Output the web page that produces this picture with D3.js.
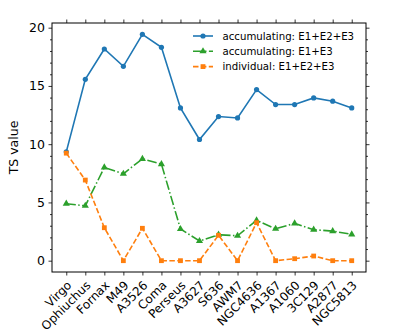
<!DOCTYPE html>
<html lang="en">
<head>
<meta charset="UTF-8">
<title>TS value</title>
<style>
  body { margin: 0; background: #fff; }
  text { font-family: "DejaVu Sans", sans-serif; fill: #000; }
</style>
</head>
<body>
<script src="https://d3js.org/d3.v7.min.js"></script>
<script>
var width = 398, height = 332;
var margin = { left: 52, right: 32, top: 23, bottom: 60 };

// data
var clusters = ['Virgo', 'Ophiuchus', 'Fornax', 'M49', 'A3526', 'Coma', 'Perseus', 'A3627',
  'S636', 'AWM7', 'NGC4636', 'A1367', 'A1060', '3C129', 'A2877', 'NGC5813'];
var accE1E2E3 = [9.34, 15.57, 18.17, 16.68, 19.43, 18.31, 13.11, 10.40,
  12.37, 12.25, 14.69, 13.40, 13.40, 13.97, 13.69, 13.11];
var accE1E3 = [4.89, 4.71, 8.0, 7.46, 8.74, 8.29, 2.72, 1.69,
  2.23, 2.14, 3.46, 2.74, 3.2, 2.66, 2.54, 2.26];
var indivE1E2E3 = [9.23, 6.92, 2.83, 0, 2.78, 0, 0, 0,
  2.18, 0, 3.26, 0, 0.17, 0.4, 0, 0];
var yTicks = [0, 5, 10, 15, 20];
var seriesNames = ['accumulating: E1+E2+E3', 'accumulating: E1+E3', 'individual: E1+E2+E3'];

var series = [
  { name: seriesNames[0], values: accE1E2E3, color: '#1f77b4', dash: null, marker: 'circle' },
  { name: seriesNames[1], values: accE1E3, color: '#2ca02c', dash: '9.6,2.4,1.5,2.4', marker: 'triangle' },
  { name: seriesNames[2], values: indivE1E2E3, color: '#ff7f0e', dash: '5.5,2.4', marker: 'square' }
];

var svg = d3.select('body').append('svg').attr('width', width).attr('height', height);
var pw = width - margin.left - margin.right;
var ph = height - margin.top - margin.bottom;
var g = svg.append('g').attr('transform', 'translate(' + margin.left + ',' + margin.top + ')');

// matplotlib style 5% margins
var n = clusters.length;
var x = d3.scaleLinear().domain([-0.75, n - 1 + 0.75]).range([0, pw]);
var yMax = d3.max(accE1E2E3);
var y = d3.scaleLinear().domain([-0.05 * yMax, yMax * 1.05]).range([ph, 0]);

var idx = d3.range(n);
var minor = d3.range(0, 21, 1).filter(function(v) { return v % 5 !== 0; });

// axes, ticks out on all four sides
g.append('g').attr('transform', 'translate(0,' + ph + ')')
  .call(d3.axisBottom(x).tickValues(idx).tickSize(3.5).tickFormat(''));
g.append('g').call(d3.axisTop(x).tickValues(idx).tickSize(3.5).tickFormat(''));
var left = g.append('g').call(d3.axisLeft(y).tickValues(yTicks).tickSize(3.5).tickPadding(3.5));
g.append('g').attr('transform', 'translate(' + pw + ',0)')
  .call(d3.axisRight(y).tickValues(yTicks).tickSize(3.5).tickFormat(''));
g.append('g').call(d3.axisLeft(y).tickValues(minor).tickSize(2).tickFormat(''));
g.append('g').attr('transform', 'translate(' + pw + ',0)')
  .call(d3.axisRight(y).tickValues(minor).tickSize(2).tickFormat(''));

g.selectAll('.domain').remove();
g.selectAll('.tick line').attr('stroke', '#000').attr('stroke-width', 0.8);
left.selectAll('text').attr('font-size', 12.5).style('font-family', 'DejaVu Sans');

g.append('rect').attr('width', pw).attr('height', ph)
  .attr('fill', 'none').attr('stroke', '#000').attr('stroke-width', 1);

// rotated category labels
g.append('g').selectAll('text').data(clusters).enter().append('text')
  .attr('transform', function(d, i) { return 'translate(' + (x(i) + 6) + ',' + (ph + 14) + ') rotate(-45)'; })
  .attr('text-anchor', 'end')
  .attr('font-size', 12)
  .text(function(d) { return d; });

svg.append('text')
  .attr('transform', 'translate(18,' + (margin.top + ph / 2) + ') rotate(-90)')
  .attr('text-anchor', 'middle')
  .attr('font-size', 12.5)
  .text('TS value');

// lines and markers
var line = d3.line().x(function(d, i) { return x(i); }).y(function(d) { return y(d); });

function drawMarker(sel, type, color, cx, cy) {
  if (type === 'circle') {
    sel.append('circle').attr('cx', cx).attr('cy', cy).attr('r', 2.6).attr('fill', color);
  } else if (type === 'triangle') {
    sel.append('path').attr('d', d3.symbol().type(d3.symbolTriangle).size(22)())
      .attr('transform', 'translate(' + cx + ',' + cy + ')').attr('fill', color);
  } else {
    sel.append('rect').attr('x', cx - 2.4).attr('y', cy - 2.4).attr('width', 4.8).attr('height', 4.8).attr('fill', color);
  }
}

series.forEach(function(s) {
  g.append('path').datum(s.values)
    .attr('d', line)
    .attr('fill', 'none')
    .attr('stroke', s.color)
    .attr('stroke-width', 1.6)
    .attr('stroke-dasharray', s.dash);
  var mg = g.append('g');
  s.values.forEach(function(v, i) { drawMarker(mg, s.marker, s.color, x(i), y(v)); });
});

// legend
var legend = g.append('g').attr('transform', 'translate(' + (193 - margin.left) + ',' + (36 - margin.top) + ')');
series.forEach(function(s, i) {
  var row = legend.append('g').attr('transform', 'translate(0,' + (i * 15.3) + ')');
  row.append('line').attr('x1', 0).attr('x2', 20).attr('y1', 0).attr('y2', 0)
    .attr('stroke', s.color).attr('stroke-width', 1.6).attr('stroke-dasharray', s.dash);
  drawMarker(row, s.marker, s.color, 10, 0);
  row.append('text').attr('x', 29.5).attr('y', 0).attr('dy', '0.35em')
    .attr('font-size', 10.2).text(s.name);
});
</script>
</body>
</html>
